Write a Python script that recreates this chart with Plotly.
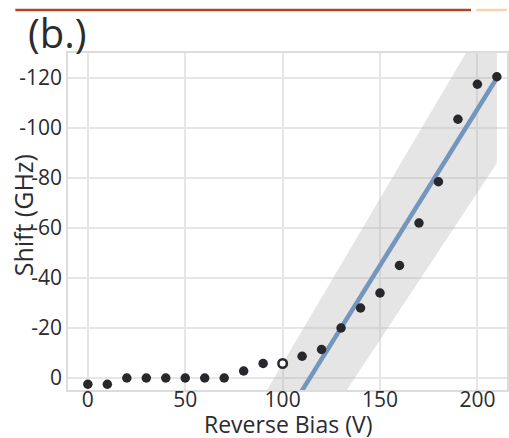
import plotly.graph_objects as go

# Data
bias = [0, 10, 20, 30, 40, 50, 60, 70, 80, 90, 110, 120, 130, 140, 150, 160, 170, 180, 190, 200, 210]
shift = [2.5, 2.5, 0, 0, 0, 0, 0, 0, -2.8, -5.8, -8.7, -11.4, -20, -28, -34, -45, -62, -78.5, -103.5, -117.5, -120.5]
open_bias = [100]
open_shift = [-5.8]
fit_x = [105, 210]
fit_y = [11.2, -120]
band_x = [90, 210, 210, 90]
band_y = [7.4, -151, -86, 55.5]

x_ticks = [0, 50, 100, 150, 200]
y_ticks = [-120, -100, -80, -60, -40, -20, 0]
y_labels = ["-120", "-100", "-80", "-60", "-40", "-20", "0"]

FONT = "Open Sans"
TXT = "#2b2b30"
DOT = "#27272c"

fig = go.Figure()
fig.add_trace(go.Scatter(x=band_x, y=band_y, fill="toself", mode="lines",
                         line=dict(width=0), fillcolor="rgba(175,175,175,0.33)",
                         hoverinfo="skip", showlegend=False))
fig.add_trace(go.Scatter(x=fit_x, y=fit_y, mode="lines",
                         line=dict(color="#7496bd", width=4.5), showlegend=False))
fig.add_trace(go.Scatter(x=bias, y=shift, mode="markers",
                         marker=dict(color=DOT, size=9.5, line=dict(width=0)),
                         showlegend=False, cliponaxis=False))
fig.add_trace(go.Scatter(x=open_bias, y=open_shift, mode="markers",
                         marker=dict(color="white", size=8.5, line=dict(color=DOT, width=2.5)),
                         showlegend=False))

fig.update_layout(
    width=509, height=438,
    margin=dict(l=68, r=0, t=53, b=48),
    paper_bgcolor="white", plot_bgcolor="white",
    font=dict(family=FONT, color=TXT, size=20),
    xaxis=dict(range=[-10.2, 215.2], tickvals=x_ticks, showgrid=True, gridcolor="#e6e6e6",
               gridwidth=1.5, zeroline=False, showline=True, linecolor="#dcdcdc", linewidth=1.5,
               mirror=True, ticks="", ticklabelstandoff=-10, tickfont=dict(size=21, color=TXT)),
    yaxis=dict(range=[4.8, -130], tickvals=y_ticks, ticktext=y_labels, showgrid=True,
               gridcolor="#e6e6e6", gridwidth=1.5, zeroline=False, showline=True,
               linecolor="#dcdcdc", linewidth=1.5, mirror=True, ticks="",
               tickfont=dict(size=21, color=TXT)),
    annotations=[
        dict(text="(b.)", xref="paper", yref="paper", x=-0.095, y=1.06,
             xanchor="left", yanchor="middle", showarrow=False,
             font=dict(size=40, color=TXT, family=FONT)),
        dict(text="Shift (GHz)", xref="paper", yref="paper", x=-0.102, y=0.519,
             xanchor="center", yanchor="middle", textangle=-90, showarrow=False,
             font=dict(size=25, color=TXT, family=FONT)),
        dict(text="Reverse Bias (V)", xref="paper", yref="paper", x=0.501, y=-0.10,
             xanchor="center", yanchor="middle", showarrow=False,
             font=dict(size=23, color=TXT, family=FONT)),
    ],
    shapes=[
        dict(type="line", xref="paper", yref="paper", x0=-0.120, x1=0.918, y0=1.1276, y1=1.1276,
             line=dict(color="#b0432c", width=2.5)),
        dict(type="line", xref="paper", yref="paper", x0=0.930, x1=1.0, y0=1.1276, y1=1.1276,
             line=dict(color="#f9d3ad", width=2.5)),
    ],
)

fig.write_html("out.html", config={"displayModeBar": False},
               post_script="document.body.style.margin='0';document.body.style.overflow='hidden';")
